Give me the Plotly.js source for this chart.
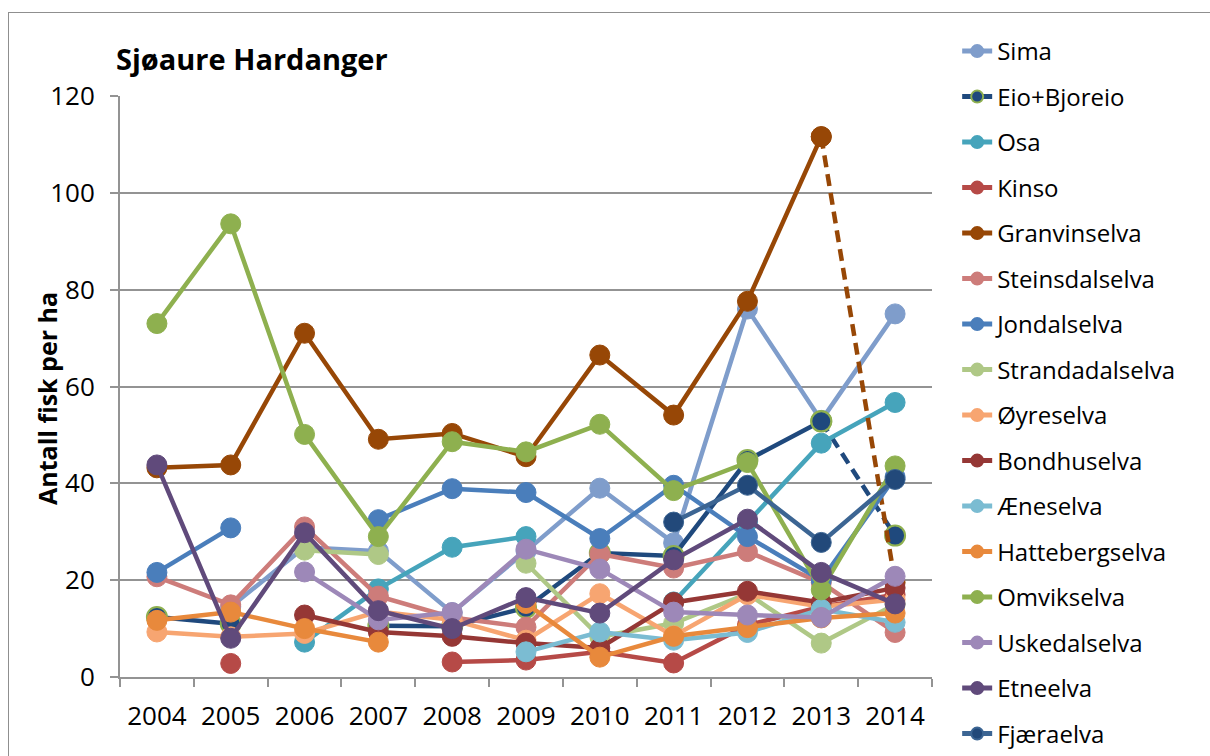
<!DOCTYPE html>
<html>
<head>
<meta charset="utf-8">
<script src="https://cdn.plot.ly/plotly-3.0.1.min.js"></script>
<style>
html,body{margin:0;padding:0;background:#fff;overflow:hidden}
#wrap{position:relative;width:1210px;height:756px}
#chart{width:1210px;height:756px}
#frame{position:absolute;left:8px;top:12px;width:1400px;height:1000px;border:1px solid #8f8f8f;pointer-events:none}
</style>
</head>
<body>
<div id="wrap"><div id="chart"></div><div id="frame"></div></div>
<script>
// Years (categories)
const years = ['2004','2005','2006','2007','2008','2009','2010','2011','2012','2013','2014'];

// Series values (Antall fisk per ha), null = no data
const sima        = [null, 14.5, 26.8, 26.0, 13.3, 26.0, 39.0, 27.7, 76.0, 53.0, 75.0];
const eioBjoreio  = [12.4, 11.0, null, 10.6, 10.5, 14.3, 25.6, 25.0, 44.8, 52.8, 29.2];
const osa         = [null, null, 7.2, 18.2, 26.8, 29.0, null, 15.5, 32.0, 48.3, 56.7];
const kinso       = [null, 2.8, null, null, 3.1, 3.5, 5.2, 2.9, 10.7, 14.5, 17.0];
const granvinselva= [43.2, 43.8, 71.0, 49.1, 50.3, 45.5, 66.5, 54.1, 77.6, 111.6, 19.5];
const steinsdalselva=[20.7, 14.9, 31.0, 16.7, 12.3, 10.3, 25.4, 22.5, 25.9, 19.5, 9.2];
const jondalselva = [21.6, 30.8, null, 32.5, 38.9, 38.1, 28.6, 39.6, 29.0, 20.0, 41.3];
const strandadalselva=[null, null, 26.2, 25.3, null, 23.5, 8.3, 11.1, 17.2, 7.0, 15.0];
const oyreselva   = [9.3, 8.3, 9.0, 13.5, 11.8, 7.6, 17.2, 8.5, 17.0, 14.5, 16.0];
const bondhuselva = [null, null, 12.8, 9.3, 8.4, 7.0, 6.0, 15.4, 17.7, 15.4, 18.4];
const aeneselva   = [null, null, null, null, null, 5.2, 9.3, 7.6, 9.2, 14.0, 11.3];
const hattebergselva=[11.7, 13.4, 10.0, 7.2, null, 15.2, 4.1, 8.4, 10.2, 12.2, 13.2];
const omvikselva  = [73.0, 93.6, 50.1, 29.0, 48.6, 46.5, 52.2, 38.5, 44.3, 18.0, 43.6];
const uskedalselva= [null, null, 21.7, 11.8, 13.3, 26.4, 22.3, 13.4, 12.8, 12.3, 20.8];
const etneelva    = [43.8, 8.0, 29.8, 13.7, 10.0, 16.4, 13.2, 24.2, 32.6, 21.6, 15.1];
const fjaeraelva  = [null, null, null, null, null, null, null, 32.0, 39.6, 27.8, 40.8];

const seriesNames = ['Sima','Eio+Bjoreio','Osa','Kinso','Granvinselva','Steinsdalselva','Jondalselva',
  'Strandadalselva','Øyreselva','Bondhuselva','Æneselva','Hattebergselva','Omvikselva','Uskedalselva','Etneelva','Fjæraelva'];
const seriesValues = [sima, eioBjoreio, osa, kinso, granvinselva, steinsdalselva, jondalselva,
  strandadalselva, oyreselva, bondhuselva, aeneselva, hattebergselva, omvikselva, uskedalselva, etneelva, fjaeraelva];

// Styles
const lineColors = ['#7F9DCB','#1F497D','#46A4BB','#B64A47','#974706','#CD7C7A','#4A7EBB',
  '#AFC886','#F7A571','#953735','#7BBCD2','#E8893C','#8EB04F','#9D88B8','#604A7B','#3C6593'];
const markerColors = lineColors.slice();
markerColors[15] = '#22497A';
const markerLines = lineColors.slice();
markerLines[1] = '#8EB04F';
markerLines[15] = '#3C6593';
const dashedLast = {'Eio+Bjoreio': true, 'Granvinselva': true};

const traces = [];
seriesNames.forEach((name, i) => {
  const vals = seriesValues[i];
  const dashed = dashedLast[name];
  const solidY = dashed ? vals.map((v, k) => (k === vals.length - 1 ? null : v)) : vals;
  traces.push({
    type: 'scatter', mode: 'lines+markers', name: name, legendgroup: name,
    x: years, y: solidY, connectgaps: false,
    line: {color: lineColors[i], width: 4.5},
    marker: {symbol: 'circle', size: 20, color: markerColors[i],
             line: {color: markerLines[i], width: name === 'Eio+Bjoreio' ? 2 : 1}},
    hoverinfo: 'x+y+name'
  });
  if (dashed) {
    traces.push({
      type: 'scatter', mode: 'lines+markers', name: name, legendgroup: name, showlegend: false,
      x: years.slice(-2), y: vals.slice(-2),
      line: {color: lineColors[i], width: 4.5, dash: '12px,7px'},
      marker: {symbol: 'circle', size: 20, color: markerColors[i],
               line: {color: markerLines[i], width: name === 'Eio+Bjoreio' ? 2 : 1}}
    });
  }
});

const gridCol = '#939393';
const layout = {
  width: 1210, height: 756,
  margin: {l: 120, r: 278, t: 96, b: 79},
  paper_bgcolor: '#ffffff', plot_bgcolor: '#ffffff',
  font: {family: '"Open Sans", Lato, sans-serif', color: '#000000'},
  title: {text: '<b>Sjøaure Hardanger</b>', font: {size: 29, color: '#000'},
          xref: 'container', x: 116/1210, xanchor: 'left',
          yref: 'container', y: 1 - 60/756, yanchor: 'middle'},
  xaxis: {type: 'category', range: [-0.5, 10.5], showgrid: false,
          showline: true, linecolor: gridCol, linewidth: 2,
          ticks: 'outside', tickson: 'boundaries', ticklen: 8, tickcolor: gridCol, tickwidth: 2,
          tickfont: {size: 26}, ticklabelstandoff: 15, fixedrange: true},
  yaxis: {range: [0, 120], tick0: 0, dtick: 20, showgrid: true, gridcolor: gridCol, gridwidth: 2,
          showline: true, linecolor: gridCol, linewidth: 2, zeroline: false,
          ticks: 'outside', ticklen: 8, tickcolor: gridCol, tickwidth: 2,
          tickfont: {size: 26}, ticklabelstandoff: 10, fixedrange: true},
  annotations: [{text: '<b>Antall fisk per ha</b>', textangle: -90, showarrow: false,
                 xref: 'paper', x: (47 - 120) / 812, xanchor: 'center',
                 yref: 'paper', y: (677 - 399) / 581, yanchor: 'middle',
                 font: {size: 25, color: '#000'}}],
  legend: {x: 1.031, xanchor: 'left', y: 1 + 66/581, yanchor: 'top',
           font: {size: 24}, maxheight: 750,
           traceorder: 'grouped', tracegroupgap: 11.3, itemsizing: 'constant',
           bgcolor: 'rgba(0,0,0,0)'},
  showlegend: true
};

Plotly.newPlot('chart', traces, layout, {displayModeBar: false, staticPlot: true});
</script>
</body>
</html>
